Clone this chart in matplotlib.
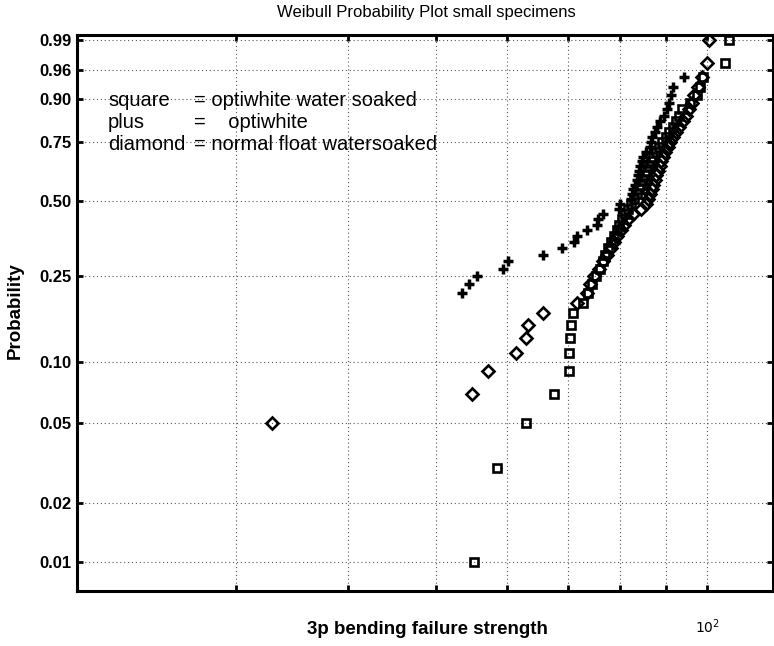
import matplotlib
matplotlib.use("Agg")
import matplotlib.pyplot as plt
import numpy as np
from matplotlib.ticker import NullLocator, FixedLocator

plt.rcParams["font.family"] = ["Liberation Sans", "DejaVu Sans"]

# plotting positions (median ranks)
p_square = [0.01, 0.03, 0.05, 0.07, 0.09, 0.11, 0.13, 0.15, 0.17, 0.19,
            0.21, 0.23, 0.25, 0.27, 0.29, 0.31, 0.33, 0.35, 0.37, 0.39,
            0.41, 0.43, 0.45, 0.47, 0.49, 0.51, 0.53, 0.55, 0.57, 0.59,
            0.61, 0.63, 0.65, 0.67, 0.69, 0.71, 0.73, 0.75, 0.77, 0.79,
            0.81, 0.83, 0.85, 0.87, 0.89, 0.91, 0.93, 0.95, 0.97, 0.99]
x_square = [55.1, 58.5, 63.0, 67.7, 70.2, 70.3, 70.5, 70.7, 70.9, 72.9,
            73.8, 74.6, 75.3, 76.1, 76.7, 77.1, 77.7, 78.3, 78.9, 79.5,
            79.9, 80.5, 81.1, 81.7, 82.4, 83.0, 83.6, 84.1, 84.5, 84.9,
            85.4, 85.8, 86.2, 86.7, 87.1, 87.8, 88.5, 89.2, 90.1, 90.8,
            91.7, 92.4, 93.1, 93.8, 95.8, 97.5, 98.2, 99.0, 104.7, 105.8]

p_plus = [0.21, 0.23, 0.25, 0.27, 0.29, 0.31, 0.33, 0.35, 0.37, 0.39,
          0.41, 0.43, 0.45, 0.47, 0.49, 0.51, 0.53, 0.55, 0.57, 0.59,
          0.61, 0.63, 0.65, 0.67, 0.69, 0.71, 0.73, 0.75, 0.77, 0.79,
          0.81, 0.83, 0.85, 0.87, 0.89, 0.91, 0.93, 0.95]
x_plus = [53.4, 54.4, 55.6, 59.4, 60.2, 65.7, 69.1, 71.1, 71.8, 73.5,
          75.4, 75.7, 76.7, 79.9, 80.1, 82.4, 82.6, 82.8, 83.2, 83.5,
          83.9, 84.1, 84.3, 84.7, 84.9, 85.6, 86.5, 86.7, 86.9, 87.6,
          88.0, 88.7, 89.6, 90.3, 90.8, 91.2, 91.7, 94.3]

p_diamond = [0.05, 0.07, 0.09, 0.11, 0.13, 0.15, 0.17, 0.19, 0.21, 0.23,
             0.25, 0.27, 0.29, 0.31, 0.33, 0.35, 0.37, 0.39, 0.41, 0.43,
             0.45, 0.47, 0.49, 0.51, 0.53, 0.55, 0.57, 0.59, 0.61, 0.63,
             0.65, 0.67, 0.69, 0.71, 0.73, 0.75, 0.77, 0.79, 0.81, 0.83,
             0.85, 0.87, 0.89, 0.91, 0.93, 0.95, 0.97, 0.99]
x_diamond = [32.9, 54.9, 57.1, 61.4, 63.0, 63.3, 65.7, 71.8, 73.6, 74.2,
             74.9, 75.9, 76.7, 77.5, 78.3, 78.9, 79.5, 80.3, 80.9, 81.7,
             82.8, 84.5, 85.6, 86.0, 86.5, 86.9, 87.1, 87.6, 87.8, 88.2,
             88.7, 88.9, 89.4, 89.8, 90.5, 91.0, 91.7, 92.4, 93.1, 94.1,
             94.8, 95.5, 96.2, 96.7, 97.7, 98.7, 100.0, 100.5]

prob_ticks = [0.01, 0.02, 0.05, 0.10, 0.25, 0.50, 0.75, 0.90, 0.96, 0.99]
x_grid = [30, 40, 50, 60, 70, 80, 90, 100]

W, H = 774, 646


def weib_fwd(p):
    p = np.clip(np.asarray(p, dtype=float), 1e-9, 1 - 1e-9)
    return np.log(-np.log(1 - p))


def weib_inv(y):
    return 1 - np.exp(-np.exp(np.asarray(y, dtype=float)))


def px(x, y):
    # pixel position (from top-left) -> figure fraction
    return x / W, 1 - y / H


fig = plt.figure(figsize=(7.74, 6.46), dpi=100)
ax = fig.add_axes([77 / W, 55 / H, 696 / W, 556 / H])

ax.set_xscale("log")
ax.set_yscale("function", functions=(weib_fwd, weib_inv))

ax.plot(x_square, p_square, "s", ls="none", mfc="none", mec="k", ms=5.5, mew=1.9)
ax.plot(x_plus, p_plus, "+", ls="none", color="k", ms=7, mew=2.5)
ax.plot(x_diamond, p_diamond, "D", ls="none", mfc="none", mec="k", ms=6, mew=1.9)

ax.set_xlim(20, 118.3)
ax.set_ylim(0.00713, 0.9924)

ax.xaxis.set_major_locator(FixedLocator(x_grid))
ax.xaxis.set_minor_locator(NullLocator())
ax.set_xticklabels([""] * 7 + ["$10^2$"], fontsize=10)
ax.yaxis.set_major_locator(FixedLocator(prob_ticks))
ax.yaxis.set_minor_locator(NullLocator())
ax.set_yticklabels(["%.2f" % t for t in prob_ticks], fontsize=12, fontweight="bold")

ax.grid(True, color="0.35", linestyle=(0, (1, 2.5)), linewidth=0.8)
ax.tick_params(direction="in", length=4, width=2, top=True, right=True)
ax.tick_params(axis="x", pad=19)
ax.tick_params(axis="y", pad=4)
for s in ax.spines.values():
    s.set_linewidth(2.2)

# hand-placed key, as in the original figure
key = [("square", "= optiwhite water soaked", 101),
       ("plus", "=    optiwhite", 122),
       ("diamond", "= normal float watersoaked", 144)]
for name, desc, yp in key:
    fig.text(*px(108, yp), name, fontsize=14.5, va="center")
    fig.text(*px(194, yp), desc, fontsize=14.5, va="center")

fig.text(*px(426, 12), "Weibull Probability Plot small specimens",
         ha="center", va="center", fontsize=12)
fig.text(*px(427, 630), "3p bending failure strength",
         ha="center", va="center", fontsize=13.5, fontweight="bold")
fig.text(*px(15, 311), "Probability", rotation=90,
         ha="center", va="center", fontsize=13.5, fontweight="bold")

fig.savefig("out.png", dpi=100)
